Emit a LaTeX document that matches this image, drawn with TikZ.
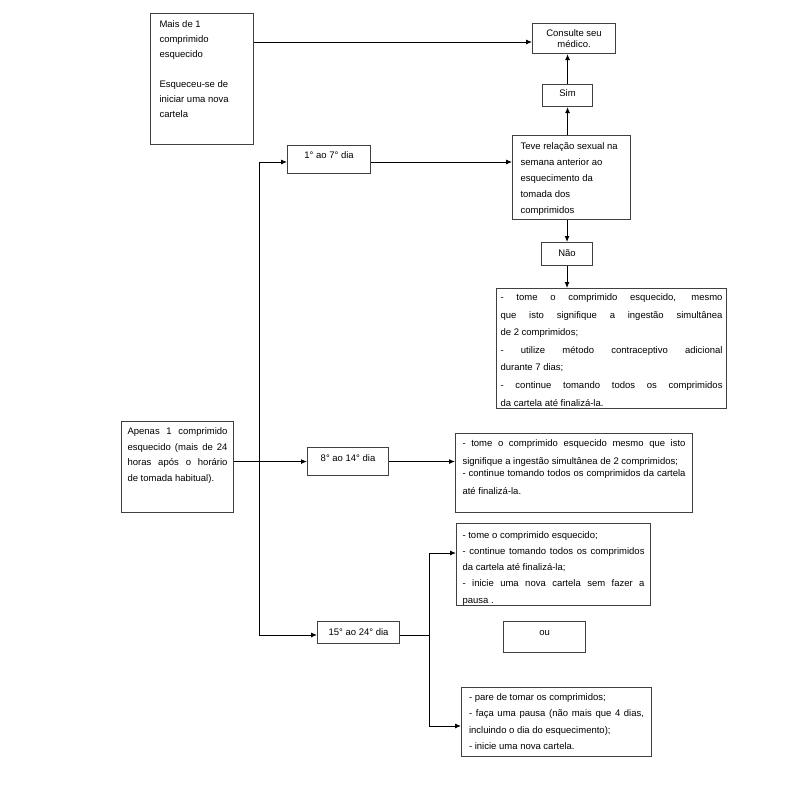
\documentclass[tikz,border=0pt]{standalone}
\usepackage{fontspec}
\setmainfont{Liberation Sans}
\usetikzlibrary{arrows.meta}
\newcommand\boxtxt[6]{%
\begin{minipage}[c][#2pt][t]{#1pt}\vspace*{#3pt}\hspace*{#4pt}\begin{minipage}[t]{\dimexpr#1pt-#4pt-#4pt\relax}\fontsize{9.5}{#5}\selectfont\hyphenpenalty=10000 \exhyphenpenalty=10000 \tolerance=10000 \rule{0pt}{9pt}#6\end{minipage}\end{minipage}}
\tikzset{
  bx/.style={draw=black!75, line width=1.1pt, inner sep=0pt, anchor=north west},
  arr/.style={draw=black, line width=0.9pt, -{Latex[length=6pt,width=5pt]}},
  ln/.style={draw=black, line width=0.9pt}
}
\begin{document}
\begin{tikzpicture}[x=1pt,y=-1pt]
\useasboundingbox (0,0) rectangle (800,800);
\node[bx] (A) at (150,13) {\boxtxt{103}{131}{5}{9}{15pt}{\raggedright Mais de 1\\comprimido\\esquecido\\[15pt]Esqueceu-se de\\iniciar uma nova\\cartela}};
\node[bx] (Cons) at (532,23) {\boxtxt{83}{30}{4}{3}{11pt}{\centering Consulte seu\\médico.}};
\node[bx] (Sim) at (542,84) {\boxtxt{50}{22}{3}{2}{12pt}{\centering Sim}};
\node[bx] (Teve) at (512,135) {\boxtxt{118}{84}{5}{8}{16pt}{\raggedright Teve relação sexual na\\semana anterior ao\\esquecimento da\\tomada dos\\comprimidos}};
\node[bx] (Nao) at (541,242) {\boxtxt{51}{23}{5}{2}{12pt}{\centering Não}};
\node[bx] (B) at (496,288) {\boxtxt{230}{120}{3}{4}{17.6pt}{- tome o comprimido esquecido, mesmo\linebreak que isto signifique a ingestão simultânea\linebreak de 2 comprimidos;\par - utilize método contraceptivo adicional\linebreak durante 7 dias;\par - continue tomando todos os comprimidos\linebreak da cartela até finalizá-la.}};
\node[bx] (D1) at (287,145) {\boxtxt{83}{28}{4}{2}{12pt}{\centering 1° ao 7° dia}};
\node[bx] (Ap) at (121,421) {\boxtxt{112}{91}{4}{6}{15.6pt}{Apenas 1 comprimido\linebreak esquecido (mais de 24\linebreak horas após o horário\linebreak de tomada habitual).}};
\node[bx] (D8) at (307,447) {\boxtxt{81}{28}{5}{2}{12pt}{\centering 8° ao 14° dia}};
\node[bx] (C) at (455,433) {\boxtxt{237}{79}{4}{7}{17.5pt}{- tome o comprimido esquecido mesmo que isto\linebreak signifique a ingestão simultânea de 2 comprimidos;\par\vspace{-5pt}- continue tomando todos os comprimidos da cartela\linebreak até finalizá-la.}};
\node[bx] (D) at (456,523) {\boxtxt{194}{82}{5.5}{6}{16.3pt}{- tome o comprimido esquecido;\par - continue tomando todos os comprimidos\linebreak da cartela até finalizá-la;\par - inicie uma nova cartela sem fazer a\linebreak pausa .}};
\node[bx] (D15) at (317,621) {\boxtxt{82}{22}{5}{2}{12pt}{\centering 15° ao 24° dia}};
\node[bx] (ou) at (503,621) {\boxtxt{82}{31}{5}{2}{12pt}{\centering ou}};
\node[bx] (E) at (461,687) {\boxtxt{190}{69}{4}{7.5}{16.3pt}{- pare de tomar os comprimidos;\par - faça uma pausa (não mais que 4 dias,\linebreak incluindo o dia do esquecimento);\par - inicie uma nova cartela.}};
% connectors
\draw[arr] ([yshift=-29pt]A.north east) -- ([yshift=-19pt]Cons.north west);
\draw[arr] (Sim.north) -- (Sim.north |- Cons.south);
\draw[arr] (Sim.south |- Teve.north) -- (Sim.south);
\draw[arr] (Nao.north |- Teve.south) -- (Nao.north);
\draw[arr] (Nao.south) -- (Nao.south |- B.north);
\coordinate (t1) at (259,162);
\coordinate (t15) at (259,635);
\draw[arr] (t15) -- (t1) -- (D1.west |- t1);
\draw[arr] (t15) -- (D15.west |- t15);
\draw[arr] (D1.east |- t1) -- (Teve.west |- t1);
\draw[arr] (Ap.east |- D8.west) -- (D8.west);
\draw[arr] (D8.east) -- (D8.east -| C.west);
\coordinate (b15) at (429,635);
\coordinate (bD) at (429,553);
\coordinate (bE) at (429,726);
\draw[ln] (D15.east |- t15) -- (b15);
\draw[arr] (b15) -- (bD) -- (D.west |- bD);
\draw[arr] (b15) -- (bE) -- (E.west |- bE);
\end{tikzpicture}
\end{document}
